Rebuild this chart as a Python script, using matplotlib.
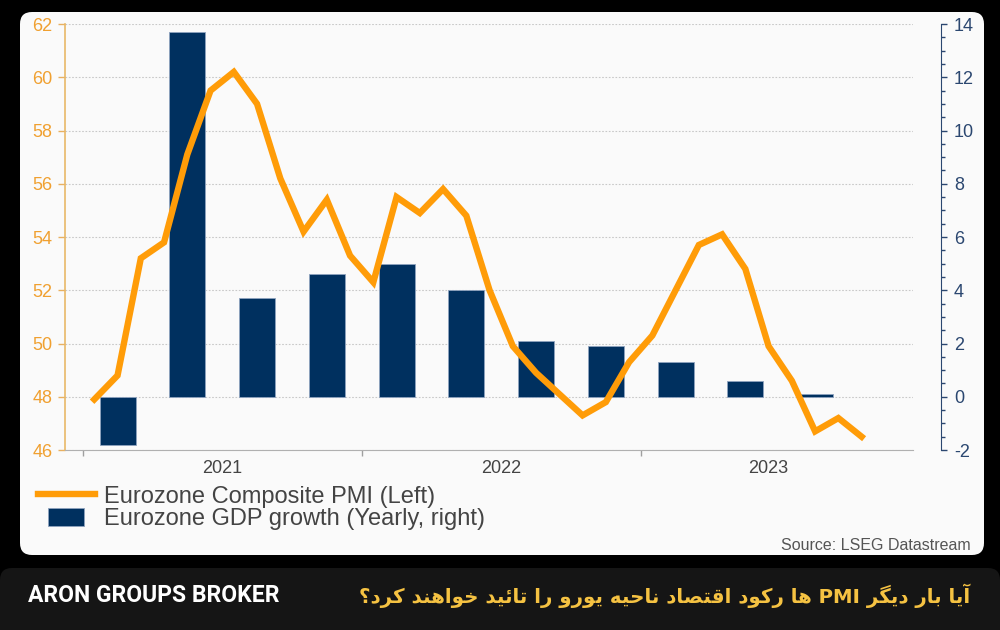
"""
Eurozone composite PMI vs GDP growth, with branded frame
"""

import re

import matplotlib

matplotlib.use("Agg")
import matplotlib.pyplot as plt
import numpy as np
from matplotlib.legend_handler import HandlerPatch
from matplotlib.patches import FancyBboxPatch, Rectangle

# monthly composite PMI, Jan 2021 .. Oct 2023
pmi_values = [47.9, 48.8, 53.2, 53.8, 57.1, 59.5, 60.2, 59.0, 56.2, 54.2, 55.4, 53.3,
              52.3, 55.5, 54.9, 55.8, 54.8, 52.0, 49.9, 48.9, 48.1, 47.3, 47.8, 49.3,
              50.3, 52.0, 53.7, 54.1, 52.8, 49.9, 48.6, 46.7, 47.2, 46.5]
# quarterly GDP growth (yoy), Q1 2021 .. Q3 2023
gdp_values = [-1.8, 13.7, 3.7, 4.6, 5.0, 4.0, 2.1, 1.9, 1.3, 0.6, 0.1]
years = ["2021", "2022", "2023"]

pmi_label = "Eurozone Composite PMI (Left)"
gdp_label = "Eurozone GDP growth (Yearly, right)"
source = "Source: LSEG Datastream"
brand = "ARON GROUPS BROKER"
headline = "آیا بار دیگر PMI ها رکود اقتصاد ناحیه یورو را تائید خواهند کرد؟"

ORANGE = "#FF9C08"
NAVY = "#00305F"

plt.rcParams["font.family"] = ["Liberation Sans", "DejaVu Sans"]
plt.rcParams["axes.unicode_minus"] = False

# Arabic/Persian letter forms: isolated, final, (initial, medial)
FORMS = {
    "\u0622": ("\uFE81", "\uFE82"),
    "\u0627": ("\uFE8D", "\uFE8E"),
    "\u062F": ("\uFEA9", "\uFEAA"),
    "\u0631": ("\uFEAD", "\uFEAE"),
    "\u0648": ("\uFEED", "\uFEEE"),
    "\u0628": ("\uFE8F", "\uFE90", "\uFE91", "\uFE92"),
    "\u062A": ("\uFE95", "\uFE96", "\uFE97", "\uFE98"),
    "\u062D": ("\uFEA1", "\uFEA2", "\uFEA3", "\uFEA4"),
    "\u062E": ("\uFEA5", "\uFEA6", "\uFEA7", "\uFEA8"),
    "\u0635": ("\uFEB9", "\uFEBA", "\uFEBB", "\uFEBC"),
    "\u0642": ("\uFED5", "\uFED6", "\uFED7", "\uFED8"),
    "\u0646": ("\uFEE5", "\uFEE6", "\uFEE7", "\uFEE8"),
    "\u0647": ("\uFEE9", "\uFEEA", "\uFEEB", "\uFEEC"),
    "\u0626": ("\uFE89", "\uFE8A", "\uFE8B", "\uFE8C"),
    "\u06CC": ("\uFBFC", "\uFBFD", "\uFBFE", "\uFBFF"),
    "\u06A9": ("\uFB8E", "\uFB8F", "\uFB90", "\uFB91"),
    "\u06AF": ("\uFB92", "\uFB93", "\uFB94", "\uFB95"),
}


def shapeRtl(text: str) -> str:
    out = []
    for i, c in enumerate(text):
        if c not in FORMS:
            out.append(c)
            continue
        prev = text[i - 1] if i > 0 else ""
        nxt = text[i + 1] if i + 1 < len(text) else ""
        join_prev = prev in FORMS and len(FORMS[prev]) == 4
        join_next = len(FORMS[c]) == 4 and nxt in FORMS
        f = FORMS[c]
        if join_prev and join_next:
            out.append(f[3])
        elif join_prev:
            out.append(f[1])
        elif join_next:
            out.append(f[2])
        else:
            out.append(f[0])
    visual = "".join(out)[::-1]
    return re.sub(r"[A-Za-z0-9]+", lambda m: m.group(0)[::-1], visual)


fig = plt.figure(figsize=(10, 6.3), dpi=100, facecolor="black")

# white card and bottom banner
fig.patches.append(FancyBboxPatch((0.2, 0.75), 9.64, 5.43, boxstyle="round,pad=0,rounding_size=0.12",
                                  transform=fig.dpi_scale_trans, facecolor="#FAFAFA",
                                  edgecolor="none", zorder=-10))
fig.patches.append(FancyBboxPatch((0.0, -0.2), 10.0, 0.82, boxstyle="round,pad=0,rounding_size=0.12",
                                  transform=fig.dpi_scale_trans, facecolor="#151515",
                                  edgecolor="none", zorder=-10))

ax = fig.add_axes([0.065, 0.2857, 0.848, 0.6762])
ax2 = ax.twinx()
ax.set_zorder(ax2.get_zorder() + 1)
ax.patch.set_visible(False)
ax2.patch.set_visible(False)

x_pmi = np.arange(len(pmi_values))
x_gdp = np.arange(len(gdp_values)) * 3 + 1

bars = ax2.bar(x_gdp, gdp_values, width=1.55, color=NAVY, edgecolor="#8FA3BF", linewidth=0.6)
line, = ax.plot(x_pmi, pmi_values, color=ORANGE, linewidth=4.6, solid_joinstyle="miter")

ax.set_xlim(-1.26, 35.21)
ax.set_ylim(46, 62)
ax2.set_ylim(-2, 14)

# left axis
ax.set_yticks(np.arange(46, 63, 2))
ax.tick_params(axis="y", colors="#E8B060", labelcolor="#F0A030", labelsize=13,
               length=5, width=1, pad=4)
ax.spines["left"].set_color("#E8B868")
ax.spines["left"].set_linewidth(1.2)
ax.spines["right"].set_visible(False)
ax.spines["top"].set_visible(False)
ax.spines["bottom"].set_color("#B0B0B0")

# x axis: year boundaries as ticks, year names centred in between
ax.set_xticks([-0.5, 11.5, 23.5])
ax.set_xticklabels([])
ax.set_xticks([5.5, 17.5, 29.0], minor=True)
ax.set_xticklabels(years, minor=True)
ax.tick_params(axis="x", which="major", colors="#A0A0A0", length=4, width=1)
ax.tick_params(axis="x", which="minor", length=0, labelsize=13, labelcolor="#444444", pad=7)

# right axis
for s in ["left", "top", "bottom"]:
    ax2.spines[s].set_visible(False)
ax2.spines["right"].set_position(("outward", 20))
ax2.spines["right"].set_color("#2B4770")
ax2.set_yticks(np.arange(-2, 15, 2))
ax2.set_yticks(np.arange(-2, 14.1, 0.5), minor=True)
ax2.tick_params(axis="y", which="major", colors="#2B4770", labelcolor="#2B4770",
                labelsize=13, length=4.5, width=1, pad=5)
ax2.tick_params(axis="y", which="minor", colors="#2B4770", length=2.6, width=1)
ax2.grid(axis="y", which="major", color="#C8C8C8", linestyle=(0, (1.5, 1.5)), linewidth=0.8)
ax2.set_axisbelow(True)


def smallBox(legend, orig_handle, xdescent, ydescent, width, height, fontsize):
    w = width * 0.63
    h = height * 1.05
    return Rectangle((-xdescent + (width - w) / 2, -ydescent + (height - h) / 2), w, h)


leg = fig.legend([line, bars.patches[0]], [pmi_label, gdp_label],
                 loc="upper left", bbox_to_anchor=(0.038, 0.229), frameon=False,
                 fontsize=17, handlelength=2.4, handletextpad=0.4, labelspacing=0.03,
                 borderpad=0, borderaxespad=0,
                 handler_map={bars.patches[0]: HandlerPatch(patch_func=smallBox)})
for t in leg.get_texts():
    t.set_color("#444444")

fig.text(0.971, 0.122, source, ha="right", va="bottom", fontsize=11.5, color="#555555")

fig.text(0.028, 0.055, brand, ha="left", va="center", fontsize=16.5, color="white",
         family=["Roboto", "DejaVu Sans"], weight="bold")
fig.text(0.970, 0.055, shapeRtl(headline), ha="right", va="center", fontsize=14.2,
         color="#F5C242", family=["DejaVu Sans"], weight="bold")

fig.savefig("out.png", dpi=100, facecolor=fig.get_facecolor())
